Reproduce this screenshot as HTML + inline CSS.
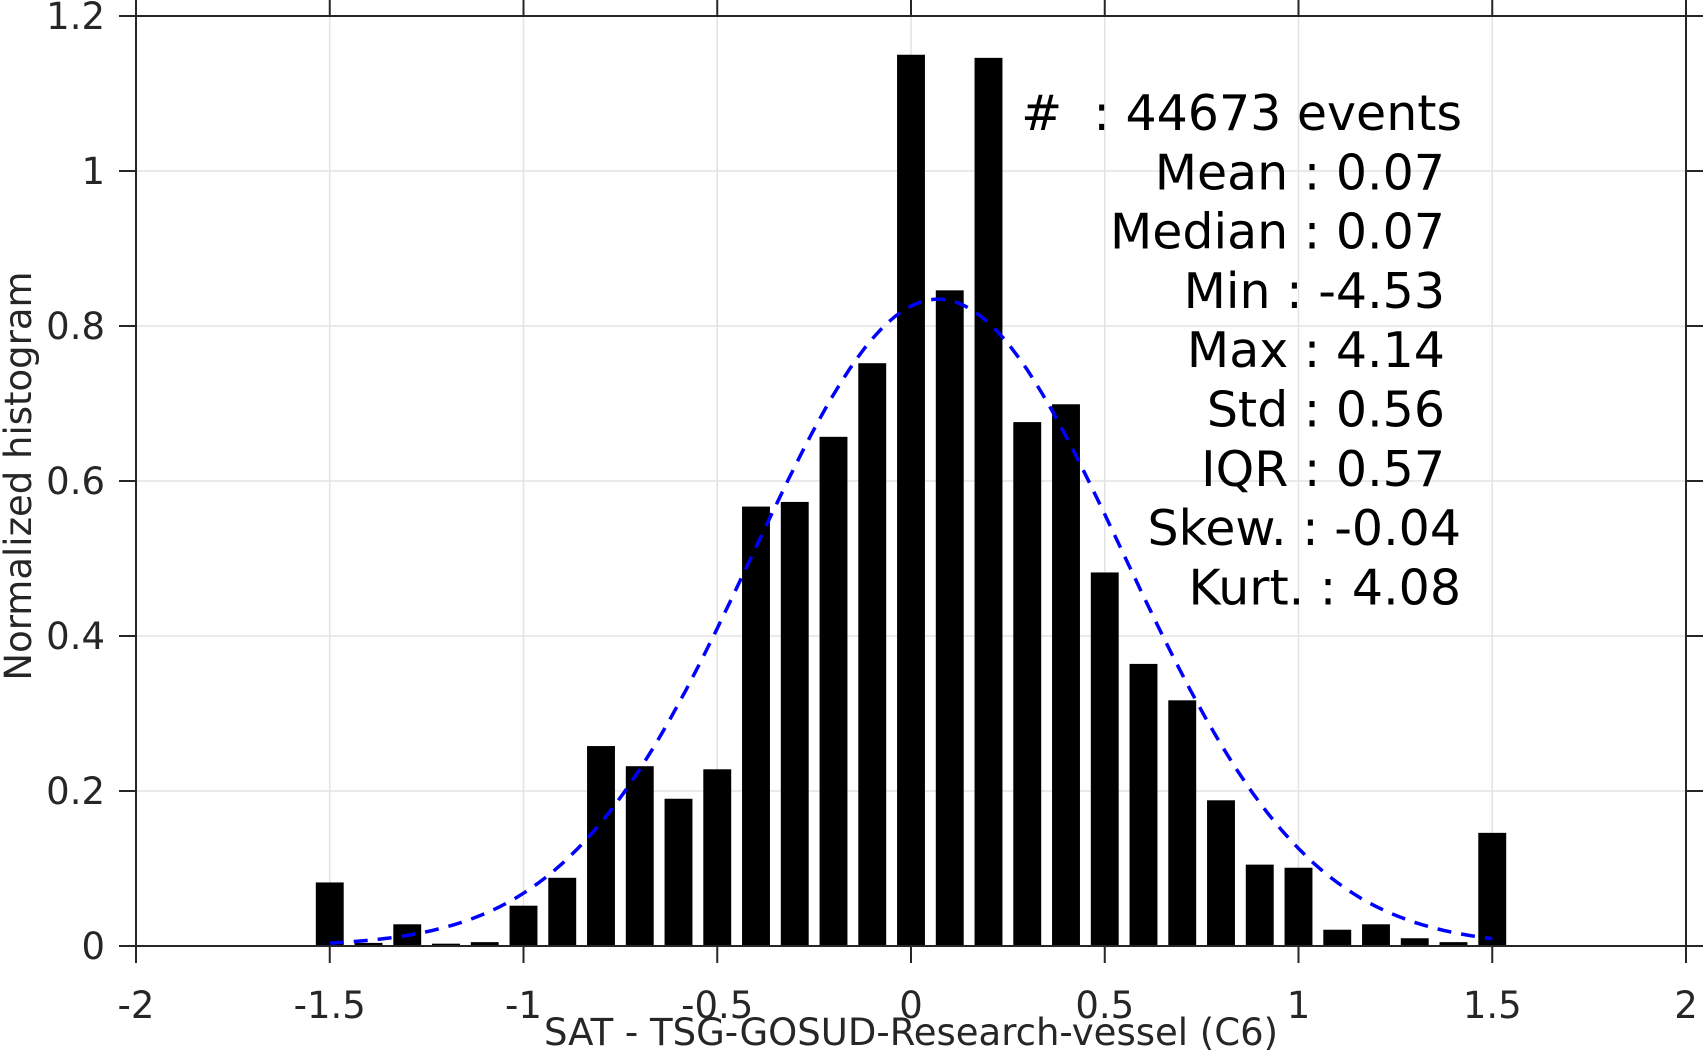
<!DOCTYPE html>
<html><head><meta charset="utf-8"><style>
html,body{margin:0;padding:0;background:#fff;}
svg{display:block;font-family:"DejaVu Sans","Liberation Sans",sans-serif;}
</style></head><body>
<svg id="chart" width="1703" height="1053" viewBox="0 0 1703 1053" xmlns="http://www.w3.org/2000/svg">
<g id="grid"></g>
<g id="bars"></g>
<path id="fit" fill="none" stroke="#0000ff" stroke-width="3.5" stroke-dasharray="14,10"></path>
<g id="axes"></g>
<g id="stats" font-size="49" fill="#000" text-anchor="end"></g>
<text x="911" y="1045" font-size="37" fill="#262626" text-anchor="middle">SAT - TSG-GOSUD-Research-vessel (C6)</text>
<text transform="translate(31,476) rotate(-90)" font-size="37" fill="#262626" text-anchor="middle">Normalized histogram</text>
</svg>
<script>
const binCenters=[-1.5,-1.4,-1.3,-1.2,-1.1,-1.0,-0.9,-0.8,-0.7,-0.6,-0.5,-0.4,-0.3,-0.2,-0.1,0.0,0.1,0.2,0.3,0.4,0.5,0.6,0.7,0.8,0.9,1.0,1.1,1.2,1.3,1.4,1.5];
const binValues=[0.082,0.004,0.028,0.003,0.005,0.052,0.088,0.258,0.232,0.19,0.228,0.567,0.573,0.657,0.752,1.15,0.846,1.146,0.676,0.699,0.482,0.364,0.317,0.188,0.105,0.101,0.021,0.028,0.01,0.005,0.146];
const xTicks=[-2,-1.5,-1,-0.5,0,0.5,1,1.5,2];
const xTickLabels=["-2","-1.5","-1","-0.5","0","0.5","1","1.5","2"];
const yTicks=[0,0.2,0.4,0.6,0.8,1,1.2];
const yTickLabels=["0","0.2","0.4","0.6","0.8","1","1.2"];
const fitMean=0.07;
const fitStd=0.478;
const statLines=["#  : 44673 events","Mean : 0.07","Median : 0.07","Min : -4.53","Max : 4.14","Std : 0.56","IQR : 0.57","Skew. : -0.04","Kurt. : 4.08"];
const statRight=[1462,1445,1445,1445,1445,1445,1445,1461,1461];

const L=136,R=1686,T=16,B=946;
const xMin=-2,xMax=2,yMin=0,yMax=1.2;
const xs=v=>L+(v-xMin)/(xMax-xMin)*(R-L);
const ys=v=>B-(v-yMin)/(yMax-yMin)*(B-T);
const NS="http://www.w3.org/2000/svg";
function mk(tag,parent){const e=document.createElementNS(NS,tag);document.getElementById(parent).appendChild(e);return e;}

// grid
xTicks.forEach((t,i)=>{
  const l=mk('line','grid');
  
  
  l.setAttribute('x1',xs(t));l.setAttribute('x2',xs(t));l.setAttribute('y1',T);l.setAttribute('y2',B);
  l.setAttribute('stroke','#e3e3e3');l.setAttribute('stroke-width','1.5');
});
yTicks.forEach((t,i)=>{
  const l=mk('line','grid');
  
  
  l.setAttribute('x1',L);l.setAttribute('x2',R);l.setAttribute('y1',ys(t));l.setAttribute('y2',ys(t));
  l.setAttribute('stroke','#e3e3e3');l.setAttribute('stroke-width','1.5');
});
// bars
const bw=(xs(0.1)-xs(0))*0.72;
binCenters.forEach((c,i)=>{
  const r=mk('rect','bars');
  
  
  r.setAttribute('x',xs(c)-bw/2);r.setAttribute('width',bw);
  r.setAttribute('y',ys(binValues[i]));r.setAttribute('height',ys(0)-ys(binValues[i]));
  r.setAttribute('fill','#000');
});
// fit curve
let d='';
for(let k=0;k<=150;k++){
  const x=-1.5+3*k/150;
  const y=Math.exp(-0.5*Math.pow((x-fitMean)/fitStd,2))/(fitStd*Math.sqrt(2*Math.PI));
  d+=(k?'L':'M')+xs(x).toFixed(1)+','+ys(y).toFixed(1);
}
document.getElementById('fit').setAttribute('d',d);
// axes box
const box=mk('rect','axes');


box.setAttribute('x',L);box.setAttribute('y',T);box.setAttribute('width',R-L);box.setAttribute('height',B-T);
box.setAttribute('fill','none');box.setAttribute('stroke','#262626');box.setAttribute('stroke-width','2');
const tl=17;
xTicks.forEach((t,i)=>{
  [[B,B+tl],[T,T-tl]].forEach(p=>{
    const l=mk('line','axes');
    
    
    l.setAttribute('x1',xs(t));l.setAttribute('x2',xs(t));l.setAttribute('y1',p[0]);l.setAttribute('y2',p[1]);
    l.setAttribute('stroke','#262626');l.setAttribute('stroke-width','2');
  });
  const tx=mk('text','axes');
  
  
  tx.setAttribute('x',xs(t));tx.setAttribute('y',1018);tx.setAttribute('text-anchor','middle');
  tx.setAttribute('font-size','37');tx.setAttribute('fill','#262626');
  tx.textContent=xTickLabels[i];
});
yTicks.forEach((t,i)=>{
  [[L,L-tl],[R,R+tl]].forEach(p=>{
    const l=mk('line','axes');
    
    
    l.setAttribute('x1',p[0]);l.setAttribute('x2',p[1]);l.setAttribute('y1',ys(t));l.setAttribute('y2',ys(t));
    l.setAttribute('stroke','#262626');l.setAttribute('stroke-width','2');
  });
  const tx=mk('text','axes');
  
  
  tx.setAttribute('x',105);tx.setAttribute('y',ys(t)+13);tx.setAttribute('text-anchor','end');
  tx.setAttribute('font-size','37');tx.setAttribute('fill','#262626');
  tx.textContent=yTickLabels[i];
});
// stats
statLines.forEach((s,i)=>{
  const tx=mk('text','stats');
  
  
  tx.setAttribute('x',statRight[i]);tx.setAttribute('y',130+i*59.3);
  tx.setAttribute('xml:space','preserve');
  tx.style.whiteSpace='pre';
  tx.textContent=s;
});
</script>
</body></html>
